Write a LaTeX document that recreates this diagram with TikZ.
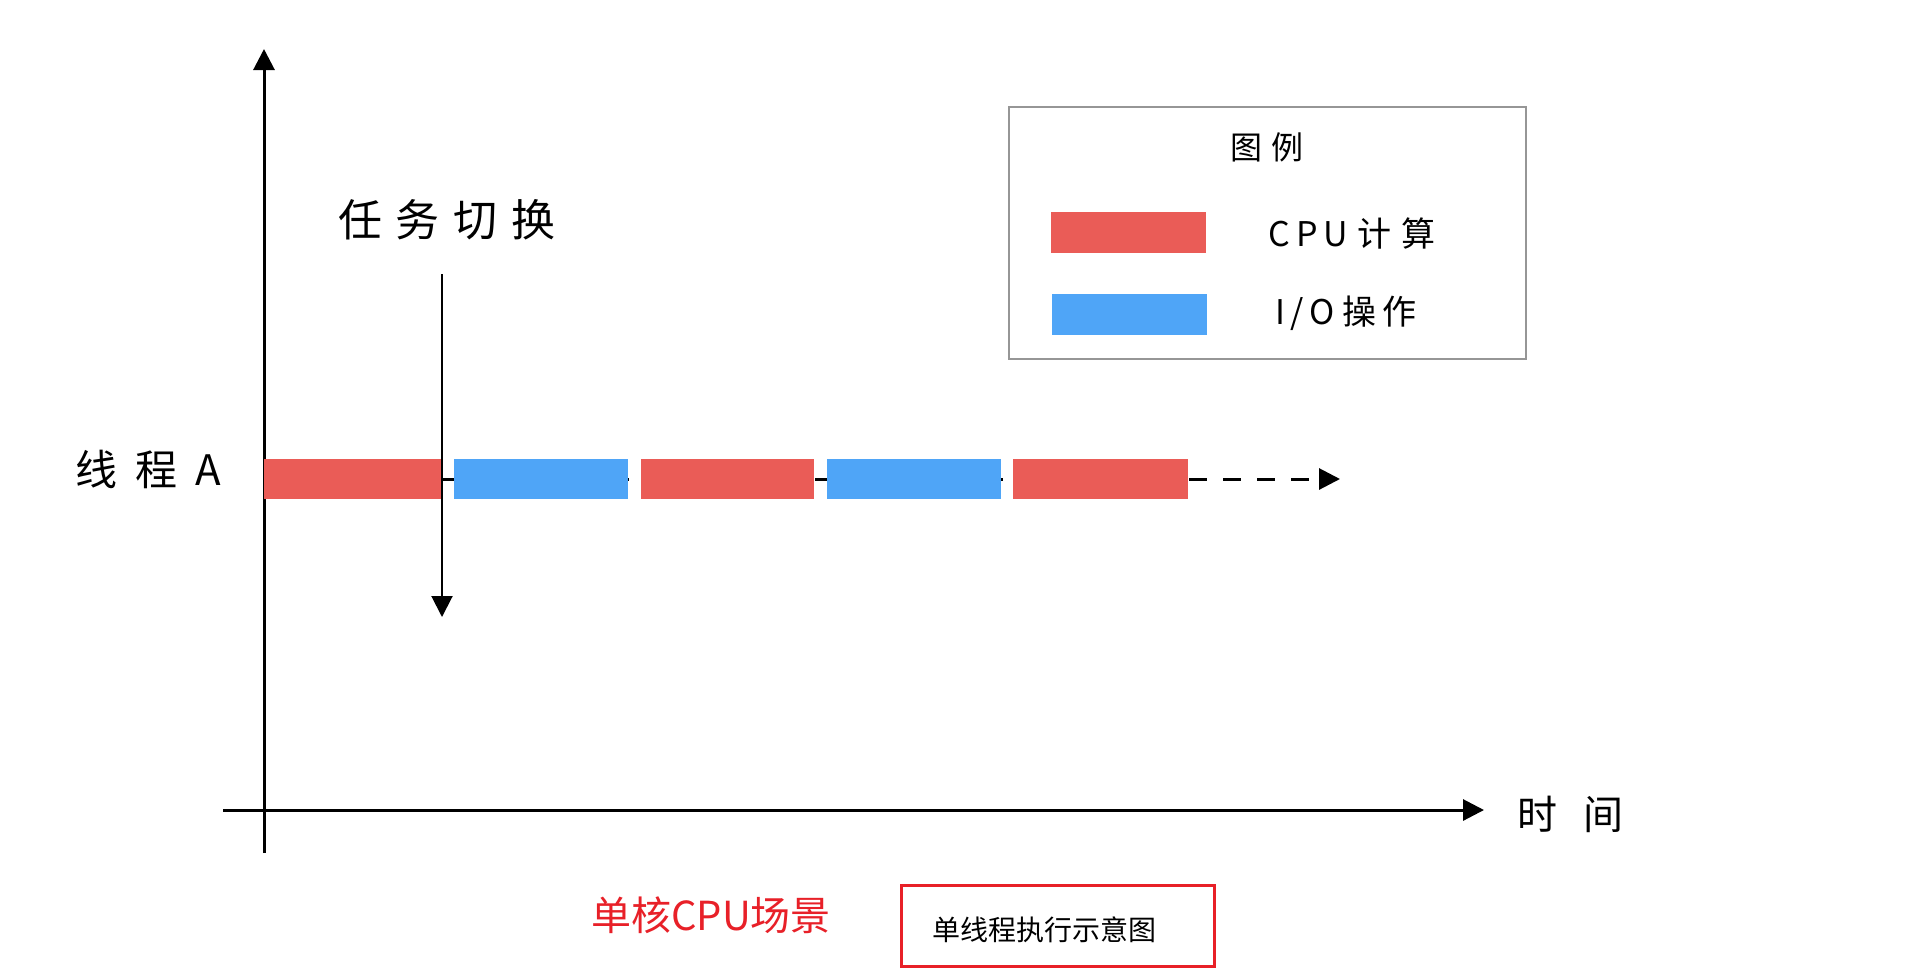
\documentclass[tikz,border=0pt]{standalone}
\usepackage{fontspec}
\setmainfont{Noto Sans CJK SC}
\newfontfamily\cjk{Noto Sans CJK SC}
\usetikzlibrary{arrows.meta}
\definecolor{cpured}{RGB}{234,92,87}
\definecolor{ioblue}{RGB}{79,165,247}
\definecolor{capred}{RGB}{232,32,40}
\definecolor{legendgray}{RGB}{150,150,150}
\tikzset{
  fsz/.style={font=\cjk\fontsize{#1}{#1}\selectfont},
  bar/.style={rectangle, inner sep=0pt, minimum height=40pt, anchor=west},
  cpubar/.style={bar, fill=cpured},
  iobar/.style={bar, fill=ioblue},
  tip/.style={-{Triangle[length=21pt,width=21pt]}},
  axis/.style={line width=3pt, tip},
  lbl/.style={inner sep=0pt, text=black},
}
\begin{document}
\begin{tikzpicture}[x=1pt,y=-1pt]
\useasboundingbox[fill=white] (0,0) rectangle (1910,970);

% axes
\coordinate (ybot) at (264,853);
\coordinate (ytop) at (264,49);
\coordinate (xl) at (223,810);
\coordinate (xr) at (1484,810);
\draw[axis] (ybot) -- (ytop);
\draw[axis] (xl) -- (xr);
\node[lbl, fsz=40] (time) at (1570,814) {时\kern26pt 间};

% dashed timeline behind bars
\coordinate (ds) at (441,479);
\coordinate (de) at (1340,479);
\draw[line width=3pt, dash pattern=on 18pt off 16pt, -{Triangle[length=21pt,width=21pt]}] (ds) -- (de);

% bars
\node[cpubar, minimum width=177pt] (b1) at (264,479) {};
\node[iobar,  minimum width=174pt] (b2) at (454,479) {};
\node[cpubar, minimum width=173pt] (b3) at (641,479) {};
\node[iobar,  minimum width=174pt] (b4) at (827,479) {};
\node[cpubar, minimum width=175pt] (b5) at (1013,479) {};

\node[lbl, fsz=42] (thread) at (148,469) {线\kern18pt 程\kern18pt A};

% task switch
\coordinate (sw1) at (442,274);
\coordinate (sw2) at (442,617);
\draw[line width=2pt, tip] (sw1) -- (sw2);
\node[lbl, fsz=44] (switch) at (447,220) {任\kern14pt 务\kern14pt 切\kern14pt 换};

% legend
\node[draw=legendgray, line width=1.5pt, rectangle, minimum width=517pt, minimum height=252pt, inner sep=0pt] (legend) at (1267.5,233) {};
\node[lbl, fsz=32] (legtitle) at (1267,147) {图\kern9pt 例};
\node[cpubar, minimum width=155pt, minimum height=41pt] (lred) at (1051,232.5) {};
\node[iobar, minimum width=155pt, minimum height=41pt] (lblue) at (1052,314.5) {};
\node[lbl, fsz=34] (lcpu) at (1352,234) {C\kern6pt P\kern6pt U\kern9pt 计\kern10pt 算};
\node[lbl, fsz=34] (lio) at (1346,313) {I\kern5pt /\kern5pt O\kern8pt 操\kern6pt 作};

% captions
\node[lbl, fsz=40, text=capred] (scene) at (711,915) {单核CPU场景};
\node[draw=capred, line width=3pt, rectangle, minimum width=313pt, minimum height=81pt, inner sep=0pt] (capbox) at (1057.5,925.5) {};
\node[lbl, fsz=28] (captext) at (1044,930) {单线程执行示意图};
\end{tikzpicture}
\end{document}
